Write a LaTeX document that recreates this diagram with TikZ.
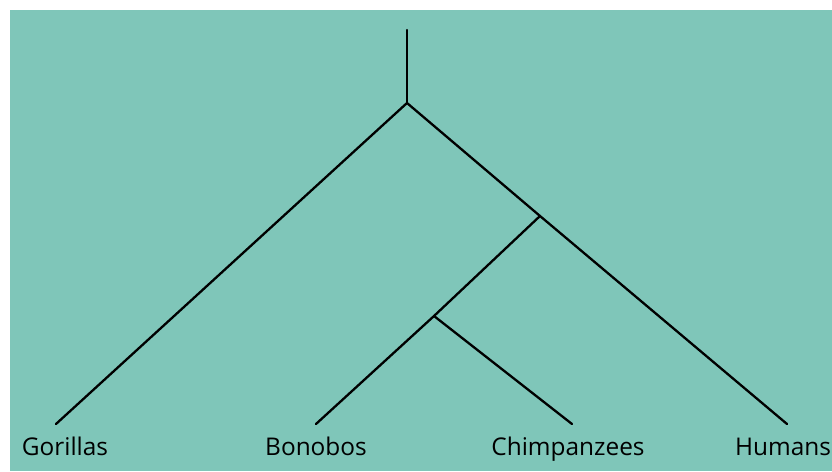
\documentclass[tikz,border=0pt]{standalone}
\usepackage{fontspec}
\setmainfont{Open Sans}
\usepackage{xcolor}
\definecolor{tealbg}{RGB}{127,198,185}
\tikzset{
  branch/.style={line width=2.3pt, line cap=round},
  leaf/.style={inner sep=0pt, anchor=base, font=\fontsize{24.4}{28}\selectfont}
}

\begin{document}
\begin{tikzpicture}[x=1pt,y=-1pt]

\useasboundingbox (0,0) rectangle (832,471);
\fill[tealbg] (10,10) rectangle (832,471);						% Hintergrund

\coordinate (top) at (407,30);									% Stamm oben
\coordinate (root) at (407,103);								% Wurzel
\coordinate (hc) at (540,216);									% Verzweigung Mensch/Schimpanse
\coordinate (bc) at (434,316);									% Verzweigung Bonobo/Schimpanse

\coordinate (gor) at (56,424);
\coordinate (bon) at (316,424);
\coordinate (chi) at (572,424);
\coordinate (hum) at (787,424);

\draw[branch] (top) -- (root);
\draw[branch] (root) -- (gor);
\draw[branch] (root) -- (hc) -- (hum);
\draw[branch] (hc) -- (bc) -- (bon);
\draw[branch] (bc) -- (chi);

\node[leaf] (gorl) at (65,455) {Gorillas};
\node[leaf] (bonl) at (316,455) {Bonobos};
\node[leaf] (chil) at (568,455) {Chimpanzees};
\node[leaf] (huml) at (783,455) {Humans};

\end{tikzpicture}
\end{document}
